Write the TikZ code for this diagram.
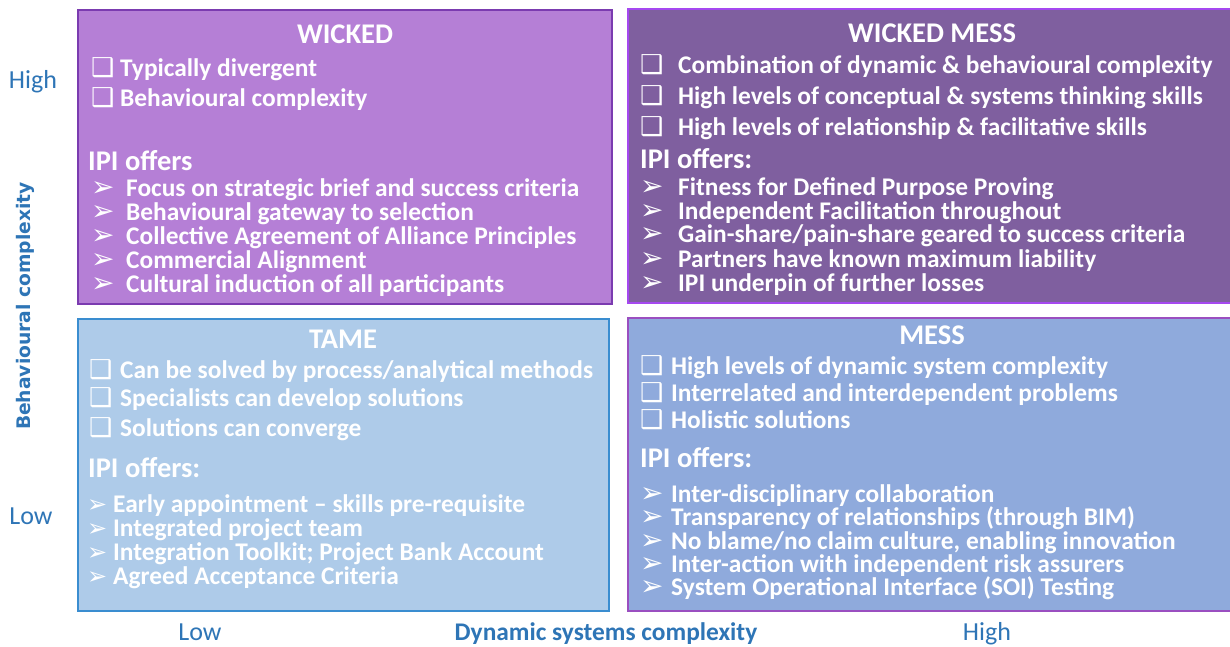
\documentclass[tikz,border=0pt]{standalone}
\usepackage{fontspec}
\setmainfont{Carlito}
\newfontfamily\symf{DejaVu Sans}
\newfontfamily\vfont{DejaVu Sans}
\definecolor{wfill}{HTML}{B57FD6}
\definecolor{wborder}{HTML}{7B3BB0}
\definecolor{wmfill}{HTML}{7F5F9F}
\definecolor{wmborder}{HTML}{A548F0}
\definecolor{tfill}{HTML}{AECBE9}
\definecolor{tborder}{HTML}{3A8DD0}
\definecolor{mfill}{HTML}{8FAADC}
\definecolor{mborder}{HTML}{9A4FC0}
\definecolor{axis}{HTML}{2E75B6}
\newcommand\sq{\smash{\symf\fontsize{26}{26}\selectfont\char"2751}}
\newcommand\ar{\smash{\symf\fontsize{28}{28}\selectfont\char"27A2}}
\newcommand\ars{\smash{\symf\fontsize{24}{24}\selectfont\char"27A2}}
\newcommand\li[6]{\node[item] (#1) at (#2,#3) {\makebox[#4pt][l]{#5}#6};}
\newcommand\la[6]{\node[subitem] (#1) at (#2,#3) {\makebox[#4pt][l]{#5}#6};}
\begin{document}
\begin{tikzpicture}[x=1pt,y=-1pt,
  quad/.style={line width=1.6pt},
  title/.style={font=\bfseries\fontsize{28.5}{28.5}\selectfont, text=white, anchor=base, inner sep=0pt},
  item/.style={font=\bfseries\fontsize{25.4}{25.4}\selectfont, text=white, anchor=base west, inner sep=0pt},
  subitem/.style={font=\bfseries\fontsize{25.4}{25.4}\selectfont, text=white, anchor=base west, inner sep=0pt},
  offers/.style={font=\bfseries\fontsize{28.5}{28.5}\selectfont, text=white, anchor=base west, inner sep=0pt},
  axlab/.style={font=\fontsize{26}{26}\selectfont, text=axis, anchor=base, inner sep=0pt},
  axtitle/.style={font=\bfseries\fontsize{25.4}{25.4}\selectfont, text=axis, anchor=base, inner sep=0pt}]
\useasboundingbox (0,0) rectangle (1230,646);
% boxes
\draw[quad, fill=wfill, draw=wborder] (78,10) rectangle (612,304);
\draw[quad, fill=wmfill, draw=wmborder] (628,9) rectangle (1231,303);
\draw[quad, fill=tfill, draw=tborder] (78,319) rectangle (609,611);
\draw[quad, fill=mfill, draw=mborder] (628,318) rectangle (1231,611);
% WICKED
\node[title] (wt) at (345,43) {WICKED};
\li{w1}{91}{76}{29}{\sq}{Typically divergent}
\li{w2}{91}{106}{29}{\sq}{Behavioural complexity}
\node[offers] (wo) at (88,170) {IPI offers};
\la{wa1}{91}{196}{35}{\ar}{Focus on strategic brief and success criteria}
\la{wa2}{91}{220}{35}{\ar}{Behavioural gateway to selection}
\la{wa3}{91}{244}{35}{\ar}{Collective Agreement of Alliance Principles}
\la{wa4}{91}{268}{35}{\ar}{Commercial Alignment}
\la{wa5}{91}{292}{35}{\ar}{Cultural induction of all participants}
% WICKED MESS
\node[title] (wmt) at (932,42) {WICKED MESS};
\li{wm1}{640}{73}{38}{\sq}{Combination of dynamic \& behavioural complexity}
\li{wm2}{640}{104}{38}{\sq}{High levels of conceptual \& systems thinking skills}
\li{wm3}{640}{135}{38}{\sq}{High levels of relationship \& facilitative skills}
\node[offers] (wmo) at (640,168) {IPI offers:};
\la{wma1}{640}{195}{38}{\ar}{Fitness for Defined Purpose Proving}
\la{wma2}{640}{219}{38}{\ar}{Independent Facilitation throughout}
\la{wma3}{640}{242}{38}{\ar}{Gain-share/pain-share geared to success criteria}
\la{wma4}{640}{267}{38}{\ar}{Partners have known maximum liability}
\la{wma5}{640}{291}{38}{\ar}{IPI underpin of further losses}
% TAME
\node[title] (tt) at (343,348) {TAME};
\li{t1}{89}{378}{31}{\sq}{Can be solved by process/analytical methods}
\li{t2}{89}{406}{31}{\sq}{Specialists can develop solutions}
\li{t3}{89}{436}{31}{\sq}{Solutions can converge}
\node[offers] (to) at (88,477) {IPI offers:};
\la{ta1}{87}{512}{26}{\ars}{Early appointment -- skills pre-requisite}
\la{ta2}{87}{536}{26}{\ars}{Integrated project team}
\la{ta3}{87}{560}{26}{\ars}{Integration Toolkit; Project Bank Account}
\la{ta4}{87}{584}{26}{\ars}{Agreed Acceptance Criteria}
% MESS
\node[title] (mt) at (932,344) {MESS};
\li{m1}{640}{374}{31}{\sq}{High levels of dynamic system complexity}
\li{m2}{640}{401}{31}{\sq}{Interrelated and interdependent problems}
\li{m3}{640}{428}{31}{\sq}{Holistic solutions}
\node[offers] (mo) at (640,467) {IPI offers:};
\la{ma1}{640}{502}{31}{\ar}{Inter-disciplinary collaboration}
\la{ma2}{640}{525}{31}{\ar}{Transparency of relationships (through BIM)}
\la{ma3}{640}{549}{31}{\ar}{No blame/no claim culture, enabling innovation}
\la{ma4}{640}{572}{31}{\ar}{Inter-action with independent risk assurers}
\la{ma5}{640}{595}{31}{\ar}{System Operational Interface (SOI) Testing}
% axes
\node[axlab] (yh) at (33,88) {High};
\node[axlab] (yl) at (31,524) {Low};
\node[font=\vfont\bfseries\fontsize{18.7}{18.7}\selectfont, text=axis, rotate=90, inner sep=0pt] (yt) at (25,306) {Behavioural complexity};
\node[axlab] (xl) at (200,640) {Low};
\node[axtitle] (xt) at (606,640) {Dynamic systems complexity};
\node[axlab] (xh) at (987,640) {High};
\end{tikzpicture}
\end{document}
